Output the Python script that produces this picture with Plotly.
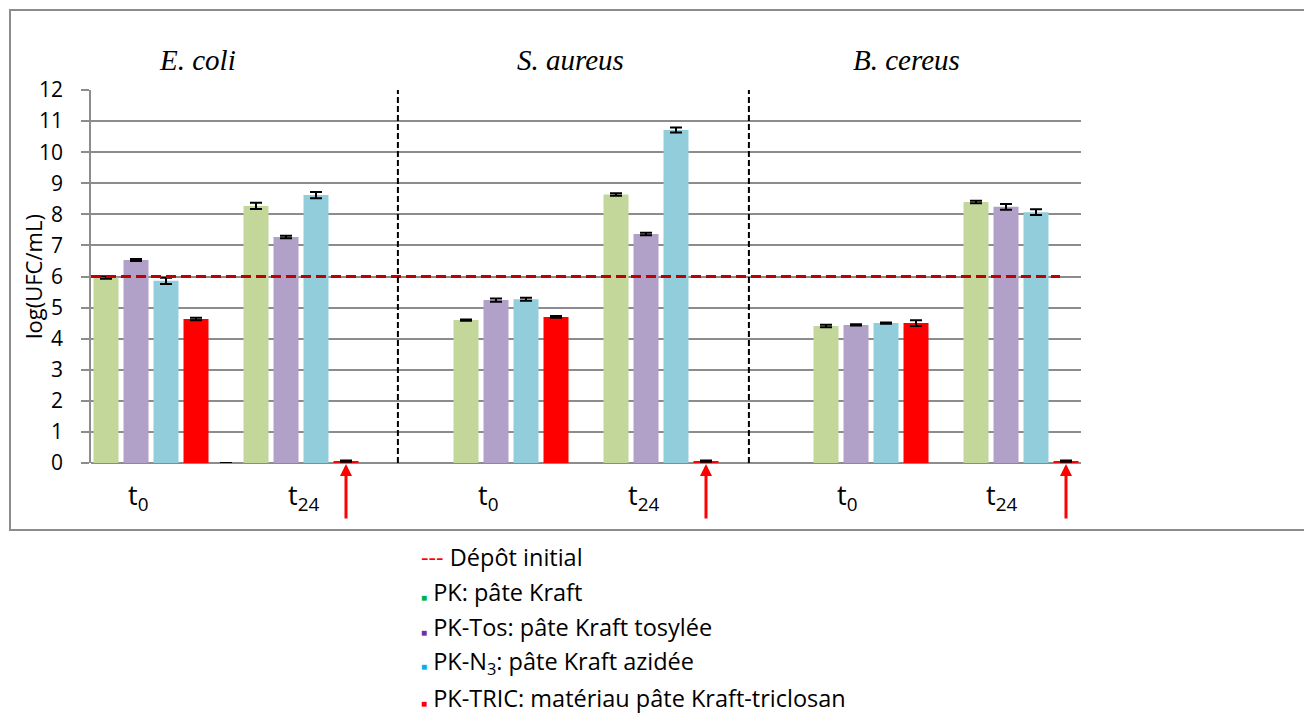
import plotly.graph_objects as go

# ---------------- data ----------------
species = ["E. coli", "S. aureus", "B. cereus"]
times = ["t<sub>0</sub>", "t<sub>24</sub>"]
# order: [E.coli t0, E.coli t24, S.aureus t0, S.aureus t24, B.cereus t0, B.cereus t24]
pk = [5.97, 8.27, 4.60, 8.64, 4.41, 8.40]
pk_err = [0.04, 0.10, 0.02, 0.04, 0.04, 0.04]
pk_tos = [6.53, 7.27, 5.24, 7.37, 4.44, 8.24]
pk_tos_err = [0.03, 0.04, 0.05, 0.04, 0.02, 0.09]
pk_n3 = [5.86, 8.62, 5.27, 10.71, 4.50, 8.07]
pk_n3_err = [0.10, 0.10, 0.05, 0.08, 0.02, 0.09]
pk_tric = [4.63, 0.06, 4.70, 0.06, 4.50, 0.06]
pk_tric_err = [0.04, 0.02, 0.03, 0.02, 0.09, 0.02]
blank = [0.0]          # empty bar (zero) after E. coli t0
blank_err = [0.0]
depot_initial = 6.0

series_names = ["PK: pâte Kraft", "PK-Tos: pâte Kraft tosylée",
                "PK-N<sub>3</sub>: pâte Kraft azidée",
                "PK-TRIC: matériau pâte Kraft-triclosan"]
bar_colors = ["#C4D79B", "#B1A0C7", "#92CDDC", "#FF0000"]
legend_colors = ["#00B050", "#7030A0", "#00B0F0", "#FF0000"]
series_vals = [pk, pk_tos, pk_n3, pk_tric]
series_errs = [pk_err, pk_tos_err, pk_n3_err, pk_tric_err]

# ---------------- layout helpers ----------------
W, H = 1312, 713
OFF = 8         # page body margin of the browser
BLOCK = 12      # slots per species block
T24_OFF = 5     # slot offset of t24 group inside a block
N_SLOTS = 33
title_px = [197, 570, 906]                         # species title centres (px)
tlabel_px = [[138, 303], [488, 643], [847, 1002]]  # time label centres (px)


def px_x(p):
    return (p - OFF) / W


def px_y(p):
    return (H - (p - OFF)) / H


fig = go.Figure()

for s, (name, vals, errs, col) in enumerate(zip(series_names, series_vals, series_errs, bar_colors)):
    xs = []
    for i in range(len(vals)):
        sp, t = divmod(i, 2)
        xs.append(sp * BLOCK + t * T24_OFF + s)
    fig.add_trace(go.Bar(
        x=xs, y=vals, name=name, marker=dict(color=col, line=dict(width=0)),
        width=0.833,
        error_y=dict(type="data", array=errs, visible=True, color="black",
                     thickness=2, width=6),
        showlegend=False))

fig.add_trace(go.Bar(
    x=[4], y=blank, marker=dict(color="rgba(0,0,0,0)"), width=0.833,
    error_y=dict(type="data", array=blank_err, visible=True, color="black",
                 thickness=2, width=6),
    showlegend=False))

font_main = "'Open Sans', Lato, sans-serif"
font_title = "'Liberation Serif', 'DejaVu Serif', serif"

fig.update_layout(
    template="none",
    width=W, height=H, autosize=False,
    margin=dict(l=0, r=0, t=0, b=0, pad=0),
    paper_bgcolor="white", plot_bgcolor="white",
    barmode="overlay",
    showlegend=False,
    font=dict(family=font_main, size=21, color="black"),
    xaxis=dict(domain=[px_x(91), px_x(1081)], range=[-0.5, N_SLOTS - 0.5],
               automargin=False,
               showgrid=False, zeroline=False, showline=False,
               showticklabels=False, ticks=""),
    yaxis=dict(domain=[px_y(463), px_y(90)], range=[0, 12], dtick=1,
               automargin=False,
               showgrid=True, gridcolor="#8C8C8C", gridwidth=1.5,
               zeroline=True, zerolinecolor="#8C8C8C", zerolinewidth=1.5,
               showline=True, linecolor="#8C8C8C", linewidth=1.5,
               ticks="outside", ticklen=8, tickcolor="#8C8C8C", tickwidth=1.5,
               ticklabelstandoff=14,
               tickfont=dict(family=font_main, size=21, color="black")),
)

shapes = []
# outer border
shapes.append(dict(type="rect", xref="paper", yref="paper",
                   x0=px_x(10), x1=px_x(1307), y0=px_y(530), y1=px_y(10),
                   line=dict(color="#8C8C8C", width=2), layer="below"))
# initial deposit line
shapes.append(dict(type="line", xref="x", yref="y", x0=-0.5, x1=31.8,
                   y0=depot_initial, y1=depot_initial,
                   line=dict(color="#C00000", width=3, dash="10px,5px")))
# vertical separators
for xsep in [9.73, 21.43]:
    shapes.append(dict(type="line", xref="x", yref="y", x0=xsep, x1=xsep,
                       y0=0, y1=12, line=dict(color="black", width=2, dash="6px,3px")))
fig.update_layout(shapes=shapes)

ann = []
for sp, name in enumerate(species):
    # species titles
    ann.append(dict(x=px_x(title_px[sp]), y=px_y(60), xref="paper", yref="paper",
                    yanchor="middle", xanchor="center",
                    text=f"<i>{name}</i>", showarrow=False,
                    font=dict(family=font_title, size=29)))
    # time labels
    for t, lab in enumerate(times):
        ann.append(dict(x=px_x(tlabel_px[sp][t]), y=px_y(496),
                        xref="paper", yref="paper", yanchor="middle", xanchor="center",
                        text=lab, showarrow=False,
                        font=dict(family=font_main, size=27)))
    # red arrows under the triclosan t24 bar
    ann.append(dict(x=sp * BLOCK + T24_OFF + 3, y=0, xref="x", yref="y",
                    ax=0, ay=57, text="", showarrow=True, arrowhead=2,
                    arrowsize=0.8, arrowwidth=3, arrowcolor="#FF0000", standoff=1))

# y axis title
ann.append(dict(x=px_x(33), y=px_y(277), xref="paper", yref="paper",
                xanchor="center", yanchor="middle",
                text="log(UFC/mL)", textangle=-90, showarrow=False,
                font=dict(family=font_main, size=22)))

# custom legend
legend_y = [557, 592, 627, 662, 698]
ann.append(dict(x=px_x(419), y=px_y(legend_y[0]), xref="paper", yref="paper",
                xanchor="left", yanchor="middle", showarrow=False,
                text="<span style='color:#FF0000'>---</span> Dépôt initial",
                font=dict(family=font_main, size=23.5)))
for i, (name, col) in enumerate(zip(series_names, legend_colors)):
    ann.append(dict(x=px_x(419), y=px_y(legend_y[i + 1]), xref="paper", yref="paper",
                    xanchor="left", yanchor="middle", showarrow=False,
                    text=f"<span style='color:{col};font-size:10px'>■</span> {name}",
                    font=dict(family=font_main, size=23.5)))
fig.update_layout(annotations=ann)

fig.write_html("out.html")
